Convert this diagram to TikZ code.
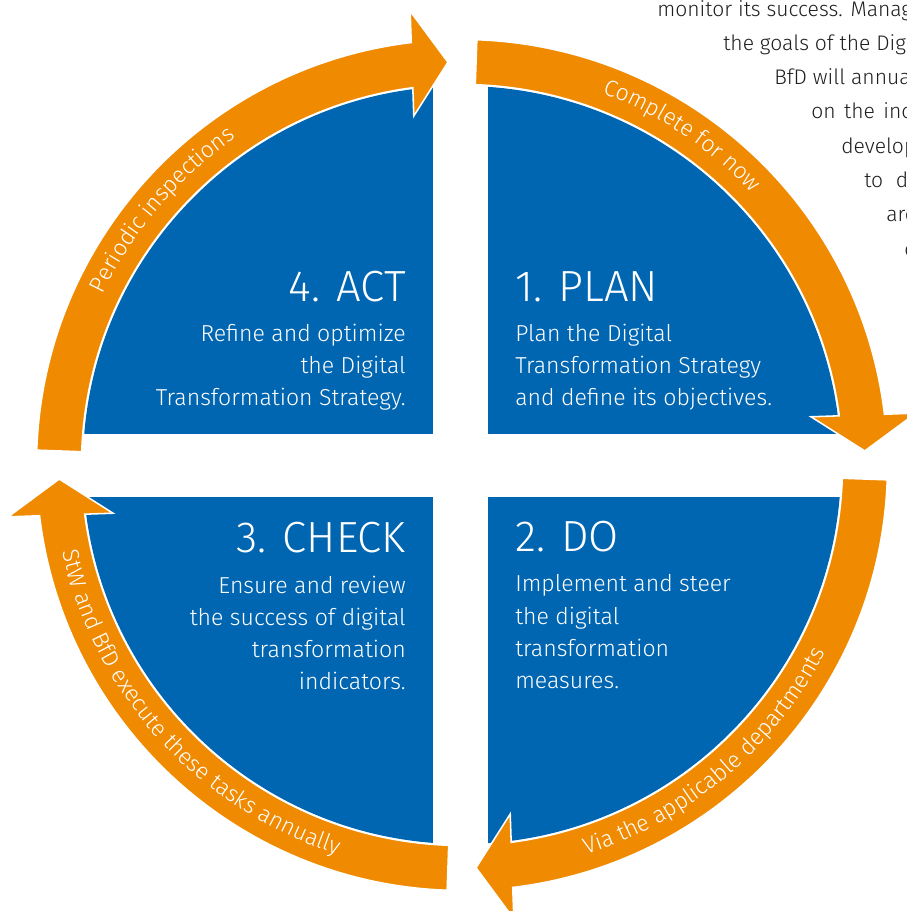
\documentclass[tikz,border=0pt]{standalone}
\usepackage{fontspec}
\setmainfont{Fira Sans}[UprightFont={* Light}]
\usetikzlibrary{decorations.text, positioning}

\definecolor{cycleblue}{RGB}{0,102,177}
\definecolor{cycleorange}{RGB}{240,138,0}
\definecolor{pagetext}{RGB}{30,30,30}
\newcommand{\ringfont}{\fontsize{16.3}{18}\selectfont\color{white}}

\begin{document}
\begin{tikzpicture}[scale=0.025]
\tikzstyle{quarter}=[fill=cycleblue]
\tikzstyle{band}=[fill=cycleorange, draw=white, line width=1.1pt]
\tikzstyle{phase}=[text=white, inner sep=0pt, font=\fontsize{31}{36}\selectfont]
\tikzstyle{task}=[text=white, inner sep=0pt, font=\fontsize{16.4}{22}\selectfont]
\tikzstyle{page line}=[text=pagetext, inner sep=0pt, anchor=base west, font=\fontsize{15}{20}\selectfont]

% Specify the ring radii and the line distance
\def\ringin{380.5}
\def\ringout{425.5}
\def\quartr{379}
\def\linesep{32}

\useasboundingbox (-462,-446) rectangle (444,465);

% Draw the four blue quarters
\begin{scope}
  \clip (0,0) circle (\quartr);
  \fill[quarter] (26,31) rectangle (400,400);
  \fill[quarter] (-29,31) rectangle (-400,400);
  \fill[quarter] (26,-32) rectangle (400,-400);
  \fill[quarter] (-29,-32) rectangle (-400,-400);
\end{scope}

% Draw the orange arrows, one for every quarter turn
\foreach \rot in {0,-90,-180,-270}
  \path[band, rotate=\rot] (178:\ringout) arc[start angle=178, end angle=96.85, radius=\ringout]
    -- (-51.87,453.96) -- (-14.06,402.75) -- (-48.21,349.02)
    -- (97.43:\ringin) arc[start angle=97.43, end angle=178, radius=\ringin] -- cycle;

% Write the labels along the arrows
\path[decorate, decoration={text along path, text align=center,
  text={|\ringfont|Complete for now}}]
  (91.25:397.5) arc[start angle=91.25, end angle=21.25, radius=397.5];
\path[decorate, decoration={text along path, text align=center,
  text={|\ringfont|Via the applicable departments}}]
  (-94.8:409) arc[start angle=-94.8, end angle=-4.8, radius=409];
\path[decorate, decoration={text along path, text align=center,
  text={|\ringfont|StW and BfD execute these tasks annually}}]
  (172.25:409) arc[start angle=172.25, end angle=272.25, radius=409];
\path[decorate, decoration={text along path, text align=center,
  text={|\ringfont|Periodic inspections}}]
  (179.6:397.5) arc[start angle=179.6, end angle=99.6, radius=397.5];

% Plan quarter
\node[phase, anchor=base west] (plan) at (53,163) {1. PLAN};
\foreach \line [count=\i] in {Plan the Digital, Transformation Strategy, and define its objectives.}
  \node[task, anchor=base west] (plan-\i) at (53,155-\linesep*\i) {\line};

% Do quarter
\node[phase, anchor=base west] (do) at (53,-87) {2. DO};
\foreach \line [count=\i] in {Implement and steer, the digital, transformation, measures.}
  \node[task, anchor=base west] (do-\i) at (53,-95-\linesep*\i) {\line};

% Check quarter
\node[phase, anchor=base east] (check) at (-56,-88) {3. CHECK};
\foreach \line [count=\i] in {Ensure and review, the success of digital, transformation, indicators.}
  \node[task, anchor=base east] (check-\i) at (-56,-96-\linesep*\i) {\line};

% Act quarter
\node[phase, anchor=base east] (act) at (-56,163) {4. ACT};
\foreach \line [count=\i] in {Refine and optimize, the Digital, Transformation Strategy.}
  \node[task, anchor=base east] (act-\i) at (-56,155-\linesep*\i) {\line};

% Running text of the page, cut at the right edge
\foreach \x/\y/\txt [count=\i] in {195/448/{monitor its success. Manag}, 261/414/{the goals of the Dig},
    312/380/{BfD will annua}, 349/346/{on\hskip 6pt the\hskip 6pt inc}, 379/311/{develop},
    402/277/{to\hskip 9pt d}, 424/243/{are}, 442/208/{c}}
  \node[page line] (page-\i) at (\x,\y) {\txt};

\end{tikzpicture}
\end{document}
